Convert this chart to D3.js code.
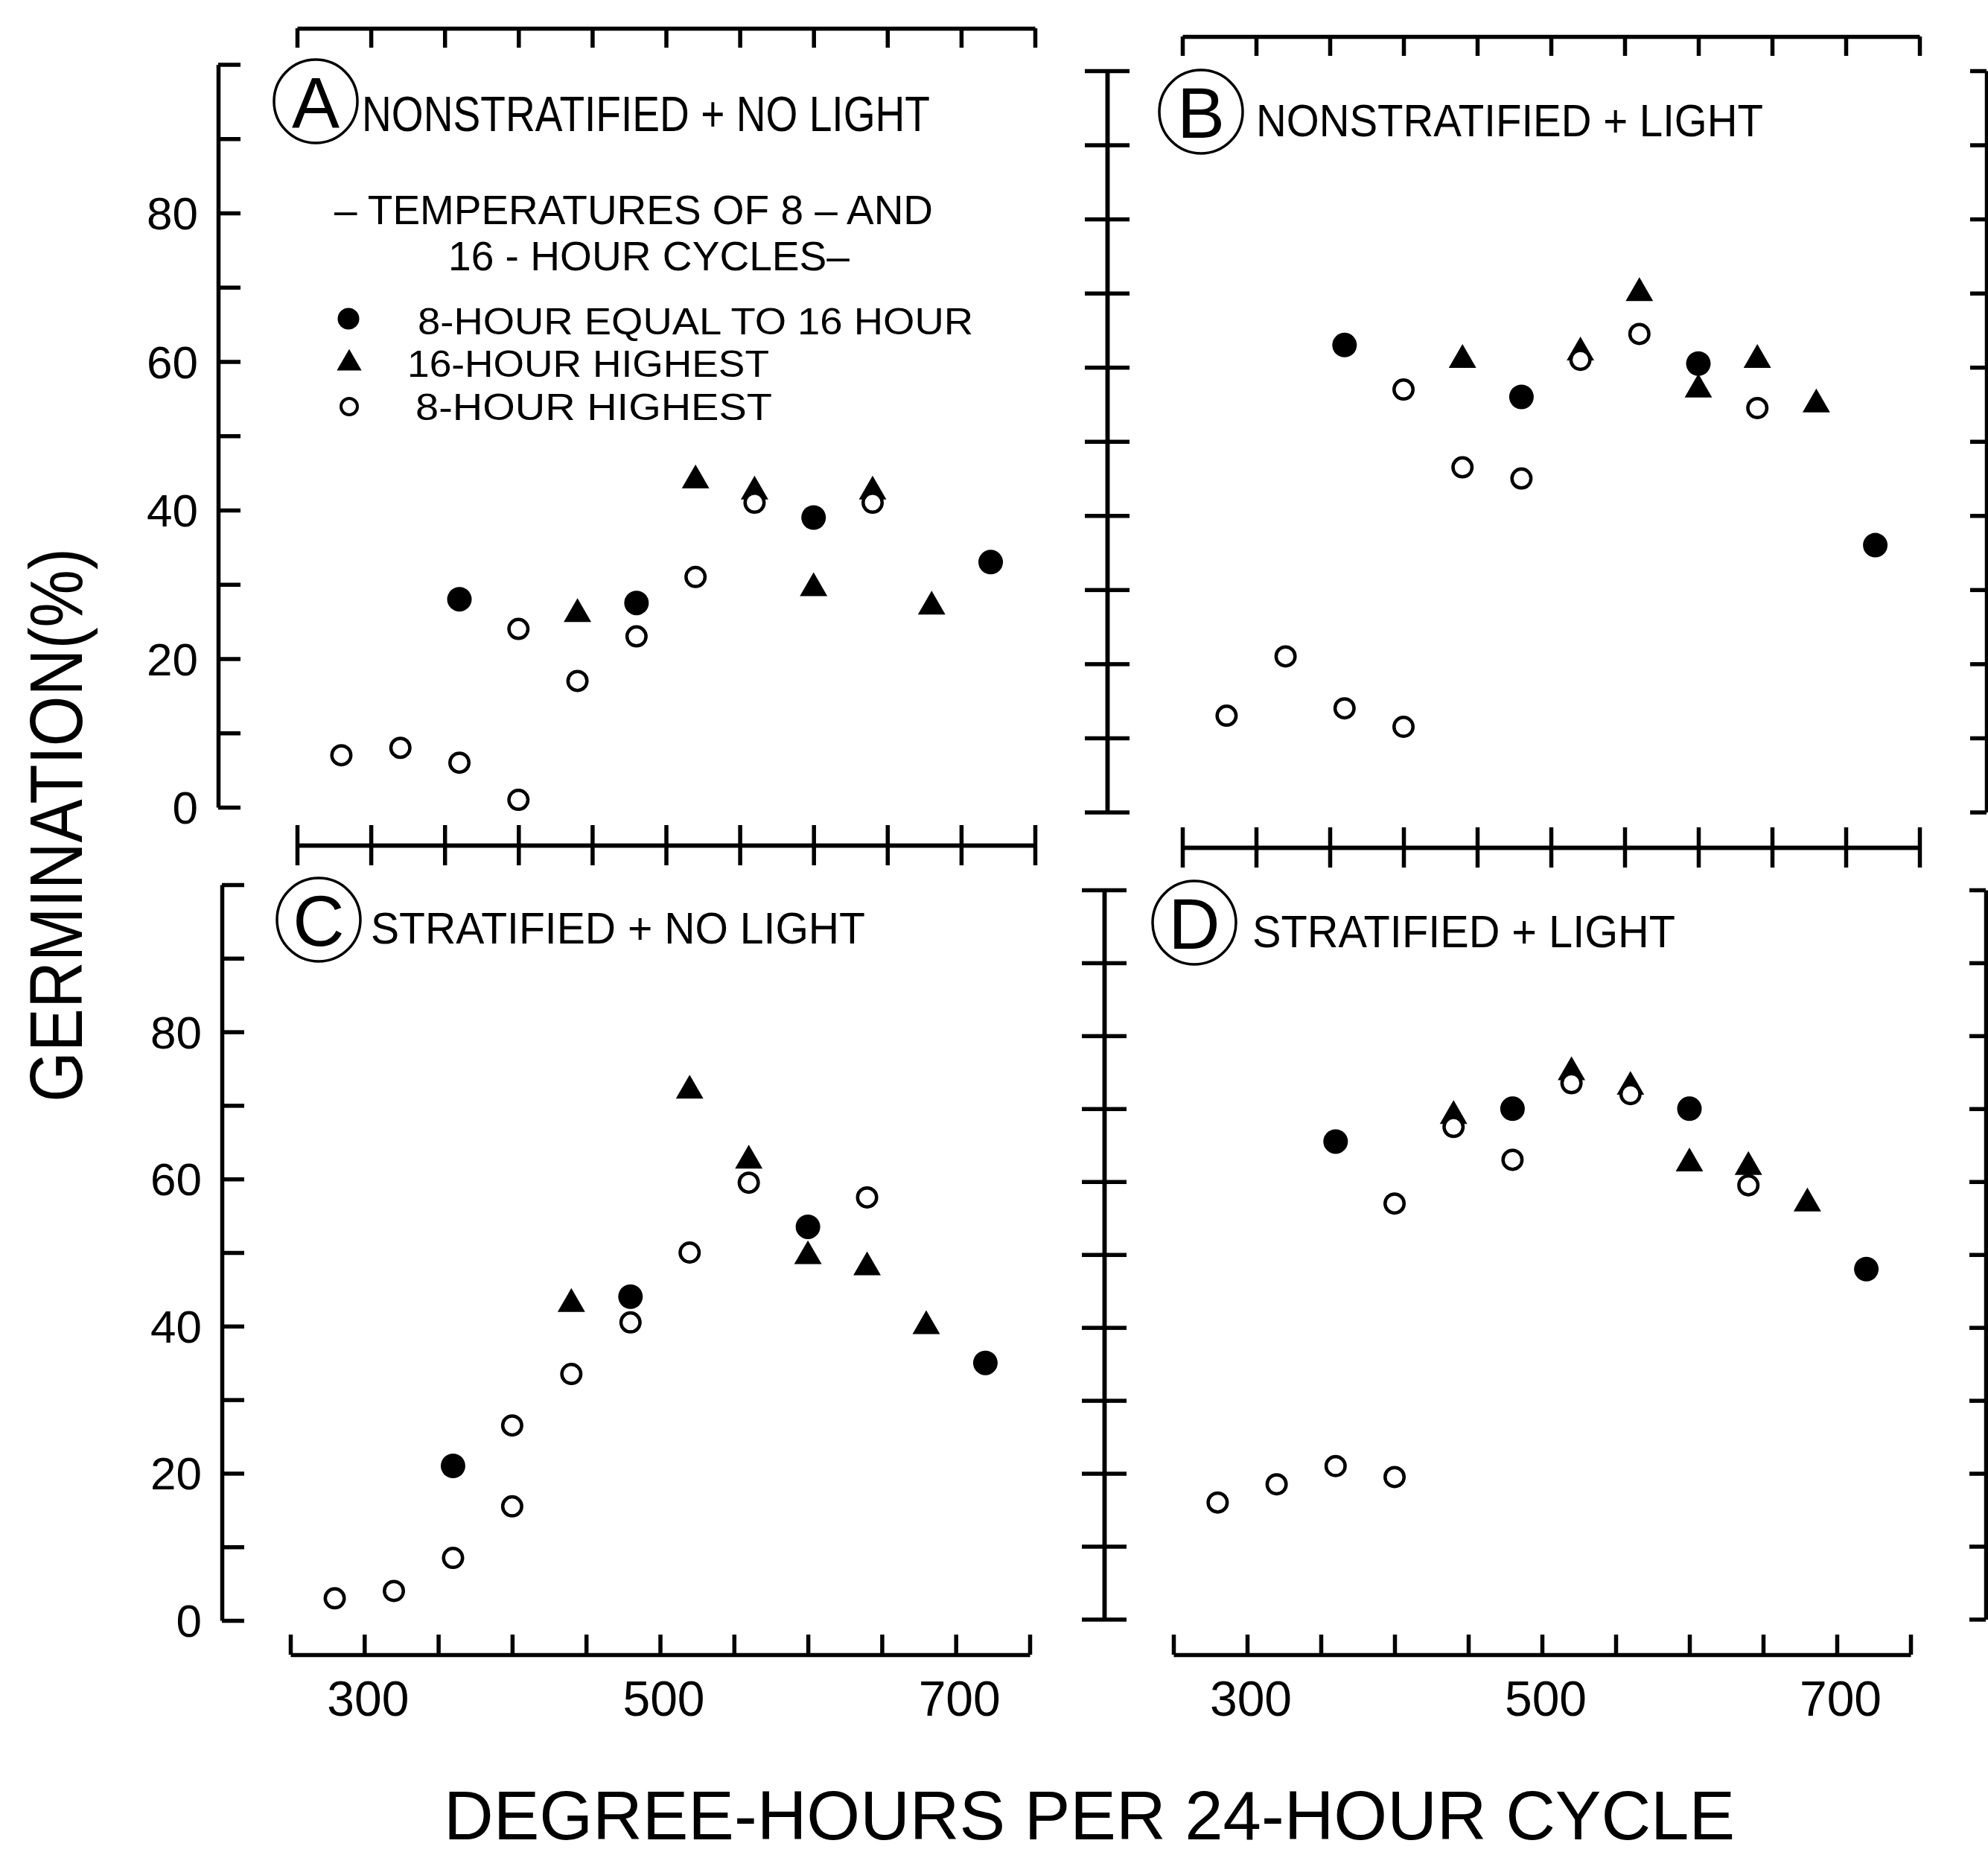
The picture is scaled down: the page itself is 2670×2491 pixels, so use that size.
<!DOCTYPE html>
<html><head><meta charset="utf-8">
<script src="https://cdn.jsdelivr.net/npm/d3@7"></script>
<style>html,body{margin:0;padding:0;background:#fff}svg{display:block}</style>
</head><body>
<svg id="chart" width="2670" height="2491"></svg>
<script>
// ---------------- DATA ----------------
const panelLetters = ["A", "B", "C", "D"];
const panelTitles = ["NONSTRATIFIED + NO LIGHT", "NONSTRATIFIED + LIGHT", "STRATIFIED + NO LIGHT", "STRATIFIED + LIGHT"];
const seriesNames = ["8-HOUR EQUAL TO 16 HOUR", "16-HOUR HIGHEST", "8-HOUR HIGHEST"];
const legendHeading = ["– TEMPERATURES OF 8 – AND", "16 - HOUR CYCLES–"];
const xTitle = "DEGREE-HOURS PER 24-HOUR CYCLE";
const yTitle = "GERMINATION(%)";
const xTicks = [250, 300, 350, 400, 450, 500, 550, 600, 650, 700, 750];
const xTickLabels = [300, 500, 700];
const yTicks = [0, 10, 20, 30, 40, 50, 60, 70, 80, 90, 100];
const yTickLabels = [0, 20, 40, 60, 80];

// [degree-hours, germination %]
// Panel A: nonstratified + no light
const equalA  = [[360, 28], [480, 27.5], [600, 39], [720, 33]];
const high16A = [[440, 26], [520, 44], [560, 42.5], [600, 29.5], [640, 42.5], [680, 27]];
const high8A  = [[280, 7], [320, 8], [360, 6], [400, 24], [400, 1], [440, 17], [480, 23], [520, 31], [560, 41], [640, 41]];
// Panel B: nonstratified + light
const equalB  = [[360, 63], [480, 56], [600, 60.5], [720, 36]];
const high16B = [[440, 61], [520, 62], [560, 70], [600, 57], [640, 61], [680, 55]];
const high8B  = [[280, 13], [320, 21], [360, 14], [400, 11.5], [400, 57], [440, 46.5], [480, 45], [520, 61], [560, 64.5], [640, 54.5]];
// Panel C: stratified + no light
const equalC  = [[360, 21], [480, 44], [600, 53.5], [720, 35]];
const high16C = [[440, 43], [520, 72], [560, 62.5], [600, 49.5], [640, 48], [680, 40]];
const high8C  = [[280, 3], [320, 4], [360, 8.5], [400, 26.5], [400, 15.5], [440, 33.5], [480, 40.5], [520, 50], [560, 59.5], [640, 57.5]];
// Panel D: stratified + light
const equalD  = [[360, 65.5], [480, 70], [600, 70], [720, 48]];
const high16D = [[440, 69], [520, 75], [560, 73], [600, 62.5], [640, 62], [680, 57]];
const high8D  = [[280, 16], [320, 18.5], [360, 21], [400, 19.5], [400, 57], [440, 67.5], [480, 63], [520, 73.5], [560, 72], [640, 59.5]];

// ---------------- LAYOUT ----------------
const FONT = "'Liberation Sans', Arial, Helvetica, sans-serif";
const SW = 5.5;
const svg = d3.select("#chart");
svg.append("rect").attr("width", 2670).attr("height", 2491).attr("fill", "#fff");

const panels = [
  { letter: panelLetters[0], title: panelTitles[0], equal: equalA, high16: high16A, high8: high8A,
    xr: [399, 1390], yr: [1084, 86.5], left: 293, leftMode: "in", top: 38, bottom: 1135, bottomMode: "cross",
    circ: [424, 136], titleX: 486, titleY: 176, titleW: 763, titleF: 66, yLabels: true, xLabels: false },
  { letter: panelLetters[1], title: panelTitles[1], equal: equalB, high16: high16B, high8: high8B,
    xr: [1588, 2578], yr: [1090.5, 95], left: 1487, leftMode: "cross", right: 2668, top: 49, bottom: 1138, bottomMode: "cross",
    circ: [1613, 150], titleX: 1687, titleY: 183, titleW: 681, titleF: 62, yLabels: false, xLabels: false },
  { letter: panelLetters[2], title: panelTitles[2], equal: equalC, high16: high16C, high8: high8C,
    xr: [390, 1383], yr: [2176, 1188], left: 298, leftMode: "in", top: null, bottom: 2222, bottomMode: "up",
    circ: [428, 1235], titleX: 498, titleY: 1267, titleW: 664, titleF: 60, yLabels: true, xLabels: true },
  { letter: panelLetters[3], title: panelTitles[3], equal: equalD, high16: high16D, high8: high8D,
    xr: [1576, 2566], yr: [2174.4, 1195], left: 1483, leftMode: "cross", right: 2667, top: null, bottom: 2222, bottomMode: "up",
    circ: [1604, 1239], titleX: 1682, titleY: 1272, titleW: 568, titleF: 61, yLabels: false, xLabels: true }
];

function styleAxis(g) {
  g.selectAll("path,line").attr("stroke", "#000").attr("stroke-width", SW).attr("fill", "none");
  g.selectAll("text").remove();
}
function addAxis(axis, tx, ty) {
  const g = svg.append("g").attr("transform", `translate(${tx},${ty})`).call(axis);
  styleAxis(g);
}

const triangle = d3.symbol().type(d3.symbolTriangle).size(590);
const triangleSmall = d3.symbol().type(d3.symbolTriangle).size(480);

panels.forEach(p => {
  const x = d3.scaleLinear().domain([250, 750]).range(p.xr);
  const y = d3.scaleLinear().domain([0, 100]).range(p.yr);

  // top axis (ticks inward)
  if (p.top !== null) {
    addAxis(d3.axisBottom(x).tickValues(xTicks).tickSize(26).tickSizeOuter(0).tickFormat(""), 0, p.top);
  }
  // bottom axis
  if (p.bottomMode === "cross") {
    addAxis(d3.axisBottom(x).tickValues(xTicks).tickSize(27).tickSizeOuter(0).tickFormat(""), 0, p.bottom);
    addAxis(d3.axisTop(x).tickValues(xTicks).tickSize(27).tickSizeOuter(0).tickFormat(""), 0, p.bottom);
  } else {
    addAxis(d3.axisTop(x).tickValues(xTicks).tickSize(27).tickSizeOuter(0).tickFormat(""), 0, p.bottom);
  }
  // left axis
  addAxis(d3.axisRight(y).tickValues(yTicks).tickSize(30).tickSizeOuter(0).tickFormat(""), p.left, 0);
  if (p.leftMode === "cross") {
    addAxis(d3.axisLeft(y).tickValues(yTicks).tickSize(30).tickSizeOuter(0).tickFormat(""), p.left, 0);
  }
  // right axis
  if (p.right) {
    addAxis(d3.axisLeft(y).tickValues(yTicks).tickSize(22).tickSizeOuter(0).tickFormat(""), p.right, 0);
  }

  // tick labels
  if (p.yLabels) {
    svg.append("g").selectAll("text").data(yTickLabels).join("text")
      .attr("x", p.left - 27).attr("y", d => y(d) + 22)
      .attr("text-anchor", "end").attr("font-family", FONT).attr("font-size", 62)
      .text(d => d);
  }
  if (p.xLabels) {
    svg.append("g").selectAll("text").data(xTickLabels).join("text")
      .attr("x", d => x(d) + 5).attr("y", 2304)
      .attr("text-anchor", "middle").attr("font-family", FONT).attr("font-size", 66)
      .text(d => d);
  }

  // panel letter in circle
  svg.append("circle").attr("cx", p.circ[0]).attr("cy", p.circ[1]).attr("r", 56)
    .attr("fill", "none").attr("stroke", "#000").attr("stroke-width", 3.5);
  svg.append("text").attr("x", p.circ[0]).attr("y", p.circ[1] + 35)
    .attr("text-anchor", "middle").attr("font-family", FONT).attr("font-size", 96)
    .text(p.letter);
  // panel title
  svg.append("text").attr("x", p.titleX).attr("y", p.titleY)
    .attr("font-family", FONT).attr("font-size", p.titleF)
    .attr("textLength", p.titleW).attr("lengthAdjust", "spacingAndGlyphs")
    .text(p.title);

  // markers
  const mg = svg.append("g");
  mg.selectAll("path.tri").data(p.high16).join("path").attr("class", "tri")
    .attr("d", triangle).attr("fill", "#000")
    .attr("transform", d => `translate(${x(d[0])},${y(d[1])})`);
  mg.selectAll("circle.eq").data(p.equal).join("circle").attr("class", "eq")
    .attr("cx", d => x(d[0])).attr("cy", d => y(d[1])).attr("r", 16.5).attr("fill", "#000");
  mg.selectAll("circle.h8").data(p.high8).join("circle").attr("class", "h8")
    .attr("cx", d => x(d[0])).attr("cy", d => y(d[1])).attr("r", 12.75)
    .attr("fill", "#fff").attr("stroke", "#000").attr("stroke-width", 4.5);
});

// ---------------- LEGEND (panel A) ----------------
const legHead = [
  { t: legendHeading[0], x: 449, y: 301, w: 804 },
  { t: legendHeading[1], x: 602, y: 363, w: 539 }
];
legHead.forEach(l => {
  svg.append("text").attr("x", l.x).attr("y", l.y).attr("font-family", FONT).attr("font-size", 56)
    .attr("textLength", l.w).attr("lengthAdjust", "spacingAndGlyphs").text(l.t);
});
const legItems = [
  { t: seriesNames[0], sy: 428, x: 561, y: 449, w: 746 },
  { t: seriesNames[1], sy: 488, x: 547, y: 506, w: 486 },
  { t: seriesNames[2], sy: 546, x: 558, y: 564, w: 479 }
];
legItems.forEach((l, i) => {
  svg.append("text").attr("x", l.x).attr("y", l.y).attr("font-family", FONT).attr("font-size", 50)
    .attr("textLength", l.w).attr("lengthAdjust", "spacingAndGlyphs").text(l.t);
  if (i === 0) {
    svg.append("circle").attr("cx", 468).attr("cy", l.sy).attr("r", 14.5).attr("fill", "#000");
  } else if (i === 1) {
    svg.append("path").attr("d", triangleSmall).attr("fill", "#000").attr("transform", `translate(469,${l.sy})`);
  } else {
    svg.append("circle").attr("cx", 469).attr("cy", l.sy).attr("r", 11).attr("fill", "#fff")
      .attr("stroke", "#000").attr("stroke-width", 4);
  }
});

// ---------------- AXIS TITLES ----------------
svg.append("text").attr("x", 596).attr("y", 2470).attr("font-family", FONT).attr("font-size", 92)
  .attr("textLength", 1734).attr("lengthAdjust", "spacingAndGlyphs").text(xTitle);
svg.append("text").attr("transform", "translate(110,1108) rotate(-90)")
  .attr("text-anchor", "middle").attr("font-family", FONT).attr("font-size", 100)
  .attr("textLength", 744).attr("lengthAdjust", "spacingAndGlyphs").text(yTitle);
</script>
</body></html>
